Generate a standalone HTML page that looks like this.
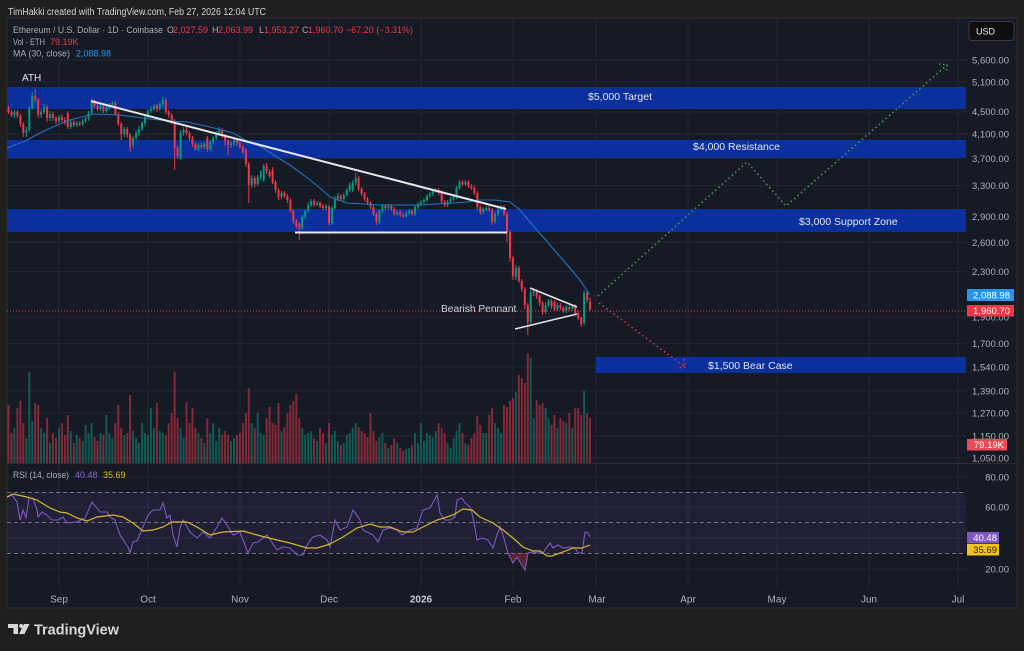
<!DOCTYPE html>
<html><head><meta charset="utf-8">
<style>
html,body{margin:0;padding:0;background:#1f1f1f;width:1024px;height:651px;overflow:hidden}
svg{display:block;font-family:"Liberation Sans",sans-serif}
</style></head><body>
<svg width="1024" height="651" viewBox="0 0 1024 651" xmlns="http://www.w3.org/2000/svg">
<rect width="1024" height="651" fill="#1f1f1f"/>
<rect x="7" y="18" width="1010" height="590" fill="#161a25" stroke="#2d2d2d" stroke-width="1"/>

<!-- grid -->
<g stroke="#212531" stroke-width="1">
  <line x1="7" x2="966" y1="60" y2="60"/><line x1="7" x2="966" y1="82" y2="82"/>
  <line x1="7" x2="966" y1="112" y2="112"/><line x1="7" x2="966" y1="134" y2="134"/>
  <line x1="7" x2="966" y1="158.5" y2="158.5"/><line x1="7" x2="966" y1="185.5" y2="185.5"/>
  <line x1="7" x2="966" y1="216.5" y2="216.5"/><line x1="7" x2="966" y1="242.5" y2="242.5"/>
  <line x1="7" x2="966" y1="271.5" y2="271.5"/><line x1="7" x2="966" y1="317" y2="317"/>
  <line x1="7" x2="966" y1="343.5" y2="343.5"/><line x1="7" x2="966" y1="367" y2="367"/>
  <line x1="7" x2="966" y1="391" y2="391"/><line x1="7" x2="966" y1="413" y2="413"/>
  <line x1="7" x2="966" y1="436" y2="436"/><line x1="7" x2="966" y1="458" y2="458"/>
  <line x1="7" x2="966" y1="477" y2="477"/><line x1="7" x2="966" y1="507" y2="507"/>
  <line x1="7" x2="966" y1="538" y2="538"/><line x1="7" x2="966" y1="569" y2="569"/>
  <line x1="59" x2="59" y1="18" y2="588"/><line x1="148" x2="148" y1="18" y2="588"/>
  <line x1="240" x2="240" y1="18" y2="588"/><line x1="329" x2="329" y1="18" y2="588"/>
  <line x1="421" x2="421" y1="18" y2="588"/><line x1="513" x2="513" y1="18" y2="588"/>
  <line x1="596" x2="596" y1="18" y2="588"/><line x1="688" x2="688" y1="18" y2="588"/>
  <line x1="777" x2="777" y1="18" y2="588"/><line x1="869" x2="869" y1="18" y2="588"/>
  <line x1="958" x2="958" y1="18" y2="588"/>
</g>

<!-- bands -->
<g fill="#0b2f9c">
  <rect x="7" y="87" width="959" height="22"/>
  <rect x="7" y="140" width="959" height="18"/>
  <rect x="7" y="209" width="959" height="23"/>
  <rect x="596" y="357" width="370" height="16"/>
</g>

<!-- volume -->
<path fill="#089981" fill-opacity="0.5" d="M13.4 428h2V463h-2zM25.3 438h2V463h-2zM28.3 372h2V463h-2zM31.2 421h2V463h-2zM40.1 428h2V463h-2zM43.1 433h2V463h-2zM49 443h2V463h-2zM58 428h2V463h-2zM69.8 431h2V463h-2zM75.7 435h2V463h-2zM81.7 441h2V463h-2zM84.6 425h2V463h-2zM87.6 433h2V463h-2zM90.6 423h2V463h-2zM99.5 433h2V463h-2zM105.4 415h2V463h-2zM108.4 433h2V463h-2zM111.3 438h2V463h-2zM123.2 435h2V463h-2zM132.1 431h2V463h-2zM135.1 438h2V463h-2zM138 443h2V463h-2zM141 423h2V463h-2zM144 433h2V463h-2zM146.9 435h2V463h-2zM149.9 408h2V463h-2zM152.9 428h2V463h-2zM158.8 431h2V463h-2zM161.8 433h2V463h-2zM179.6 428h2V463h-2zM182.6 438h2V463h-2zM197.4 433h2V463h-2zM203.3 443h2V463h-2zM209.3 433h2V463h-2zM212.2 423h2V463h-2zM215.2 441h2V463h-2zM218.2 428h2V463h-2zM230 441h2V463h-2zM233 438h2V463h-2zM250.8 423h2V463h-2zM256.7 413h2V463h-2zM259.7 433h2V463h-2zM262.7 435h2V463h-2zM280.5 431h2V463h-2zM301.2 428h2V463h-2zM304.2 435h2V463h-2zM307.2 433h2V463h-2zM310.1 431h2V463h-2zM316.1 441h2V463h-2zM325 443h2V463h-2zM330.9 435h2V463h-2zM333.9 431h2V463h-2zM336.9 441h2V463h-2zM342.8 443h2V463h-2zM345.8 435h2V463h-2zM348.7 433h2V463h-2zM351.7 428h2V463h-2zM354.7 423h2V463h-2zM378.4 437h2V463h-2zM381.4 433h2V463h-2zM387.3 448h2V463h-2zM396.2 443h2V463h-2zM405.1 449h2V463h-2zM408.1 448h2V463h-2zM414 433h2V463h-2zM417 443h2V463h-2zM419.9 423h2V463h-2zM422.9 441h2V463h-2zM425.9 433h2V463h-2zM428.8 435h2V463h-2zM431.8 437h2V463h-2zM434.8 431h2V463h-2zM446.6 443h2V463h-2zM449.6 448h2V463h-2zM452.6 438h2V463h-2zM455.5 431h2V463h-2zM458.5 423h2V463h-2zM464.4 443h2V463h-2zM482.2 433h2V463h-2zM485.2 433h2V463h-2zM494.1 423h2V463h-2zM497.1 428h2V463h-2zM500.1 433h2V463h-2zM514.9 392h2V463h-2zM529.7 358h2V463h-2zM532.7 418h2V463h-2zM544.6 408h2V463h-2zM547.5 418h2V463h-2zM556.4 428h2V463h-2zM565.3 423h2V463h-2zM571.3 428h2V463h-2zM583.1 391h2V463h-2z"/>
<path fill="#f23645" fill-opacity="0.5" d="M7.5 405h2V463h-2zM10.5 433h2V463h-2zM16.4 408h2V463h-2zM19.4 401h2V463h-2zM22.3 423h2V463h-2zM34.2 403h2V463h-2zM37.2 405h2V463h-2zM46.1 418h2V463h-2zM52 433h2V463h-2zM55 438h2V463h-2zM60.9 423h2V463h-2zM63.9 435h2V463h-2zM66.8 415h2V463h-2zM72.8 443h2V463h-2zM78.7 438h2V463h-2zM93.5 437h2V463h-2zM96.5 441h2V463h-2zM102.4 435h2V463h-2zM114.3 423h2V463h-2zM117.3 405h2V463h-2zM120.2 428h2V463h-2zM126.2 433h2V463h-2zM129.1 395h2V463h-2zM155.9 403h2V463h-2zM164.8 435h2V463h-2zM167.7 423h2V463h-2zM170.7 413h2V463h-2zM173.7 372h2V463h-2zM176.6 418h2V463h-2zM185.5 402h2V463h-2zM188.5 423h2V463h-2zM191.5 408h2V463h-2zM194.4 428h2V463h-2zM200.4 438h2V463h-2zM206.3 418h2V463h-2zM221.1 435h2V463h-2zM224.1 431h2V463h-2zM227.1 435h2V463h-2zM236 435h2V463h-2zM238.9 433h2V463h-2zM241.9 423h2V463h-2zM244.9 413h2V463h-2zM247.8 388h2V463h-2zM253.8 428h2V463h-2zM265.6 418h2V463h-2zM268.6 407h2V463h-2zM271.6 423h2V463h-2zM274.5 425h2V463h-2zM277.5 403h2V463h-2zM283.4 427h2V463h-2zM286.4 413h2V463h-2zM289.4 405h2V463h-2zM292.3 401h2V463h-2zM295.3 394h2V463h-2zM298.3 418h2V463h-2zM313.1 438h2V463h-2zM319 428h2V463h-2zM322 433h2V463h-2zM328 423h2V463h-2zM339.8 445h2V463h-2zM357.6 427h2V463h-2zM360.6 431h2V463h-2zM363.6 433h2V463h-2zM366.5 437h2V463h-2zM369.5 413h2V463h-2zM372.5 431h2V463h-2zM375.4 441h2V463h-2zM384.3 443h2V463h-2zM390.3 445h2V463h-2zM393.2 438h2V463h-2zM399.2 448h2V463h-2zM402.1 451h2V463h-2zM411 445h2V463h-2zM437.7 423h2V463h-2zM440.7 428h2V463h-2zM443.7 433h2V463h-2zM461.5 433h2V463h-2zM467.4 445h2V463h-2zM470.4 438h2V463h-2zM473.3 433h2V463h-2zM476.3 416h2V463h-2zM479.3 425h2V463h-2zM488.2 415h2V463h-2zM491.1 408h2V463h-2zM503 405h2V463h-2zM506 407h2V463h-2zM509 401h2V463h-2zM511.9 398h2V463h-2zM517.9 375h2V463h-2zM520.8 378h2V463h-2zM523.8 383h2V463h-2zM526.8 353h2V463h-2zM535.7 400h2V463h-2zM538.6 405h2V463h-2zM541.6 403h2V463h-2zM550.5 425h2V463h-2zM553.5 415h2V463h-2zM559.4 418h2V463h-2zM562.4 421h2V463h-2zM568.3 413h2V463h-2zM574.2 408h2V463h-2zM577.2 408h2V463h-2zM580.2 415h2V463h-2zM586.1 413h2V463h-2zM589 418h2V463h-2z"/>

<!-- candles: wicks -->
<path fill="none" stroke="#089981" stroke-width="1" d="M14.4 110V118M26.3 127V137M29.3 106V132M32.2 92V110M41.1 109V118M44.1 104V114M50 111V121M59 115V123M70.8 120V129M76.7 121V127M82.7 119V126M85.6 117V123M88.6 111V121M91.6 99V115M100.5 103V111M106.4 105V113M109.4 103V110M112.3 101V107M124.2 127V137M133.1 136V148M136.1 130V140M139 126V136M142 121V131M145 115V126M147.9 109V119M150.9 106V113M153.9 104V111M159.8 102V111M162.8 97V106M180.6 130V160M183.6 127V136M198.4 143V151M204.3 142V149M210.3 140V151M213.2 136V144M216.2 131V140M219.2 127V136M231 141V148M234 138V146M251.8 175V188M257.7 175V186M260.7 170V180M263.7 164V182M281.5 191V199M302.2 215V230M305.2 209V219M308.2 202V213M311.1 199V207M317.1 201V206M326 204V210M331.9 206V225M334.9 196V210M337.9 193V201M343.8 193V201M346.8 188V197M349.7 182V192M352.7 180V192M355.7 173V185M379.4 209V224M382.4 204V213M388.3 204V210M397.2 210V216M406.1 211V218M409.1 209V215M415 205V216M418 202V209M420.9 200V206M423.9 198V204M426.9 194V202M429.8 192V198M432.8 189V196M435.8 188V193M447.6 200V207M450.6 197V204M453.6 195V201M456.5 186V199M459.5 180V190M465.4 180V186M483.2 207V214M486.2 206V211M495.1 212V224M498.1 207V216M501.1 205V211M515.9 265V280M530.7 290V324M533.7 288V296M545.6 302V314M548.5 299V307M557.4 303V311M566.3 305V313M572.3 304V311M584.1 290V325"/>
<path fill="none" stroke="#f23645" stroke-width="1" d="M8.5 106V114M11.5 110V117M17.4 110V118M20.4 114V127M23.3 122V137M35.2 89V103M38.2 98V118M47.1 105V122M53 112V121M56 116V124M61.9 114V122M64.9 117V125M67.8 111V129M73.8 120V127M79.7 121V126M94.5 99V108M97.5 104V111M103.4 104V113M115.3 101V116M118.3 112V126M121.2 122V140M127.2 127V138M130.1 133V152M156.9 104V112M165.8 98V114M168.7 110V118M171.7 113V124M174.7 119V170M177.6 146V159M186.5 127V135M189.5 131V141M192.5 136V147M195.4 142V151M201.4 143V149M207.3 136V152M222.1 128V138M225.1 134V146M228.1 139V155M237 138V146M239.9 141V149M242.9 145V154M245.9 148V167M248.8 162V203M254.8 176V187M266.6 163V174M269.6 169V178M272.6 167V184M275.5 180V193M278.5 188V200M284.4 191V198M287.4 194V203M290.4 198V213M293.3 209V224M296.3 219V229M299.3 222V240M314.1 199V207M320 201V208M323 204V210M329 205V226M340.8 194V201M358.6 176V191M361.6 187V196M364.6 192V201M367.5 197V205M370.5 201V209M373.5 205V216M376.4 212V225M385.3 204V210M391.3 204V211M394.2 207V216M400.2 210V217M403.1 213V218M412 209V216M438.7 188V195M441.7 191V204M444.7 200V207M462.5 180V186M468.4 180V188M471.4 184V190M474.3 186V195M477.3 191V210M480.3 205V215M489.2 206V212M492.1 208V225M504 205V216M507 212V242M510 230V262M512.9 256V280M518.9 266V283M521.8 279V292M524.8 287V309M527.8 303V335M536.7 289V299M539.6 294V306M542.6 301V315M551.5 299V309M554.5 300V311M560.4 303V310M563.4 306V313M569.3 305V311M575.2 304V315M578.2 311V320M581.2 316V327M587.1 291V303M590 297V310.5"/>
<!-- candles: bodies -->
<path fill="#089981" d="M13.4 112h2v3h-2zM25.3 130h2v3h-2zM28.3 108h2v22h-2zM31.2 96h2v12h-2zM40.1 112h2v3h-2zM43.1 107h2v5h-2zM49 114h2v4h-2zM58 117h2v4h-2zM69.8 122h2v5h-2zM75.7 123h2v2h-2zM81.7 121h2v3h-2zM84.6 119h2v2h-2zM87.6 113h2v6h-2zM90.6 101h2v12h-2zM99.5 106h2v3h-2zM105.4 108h2v3h-2zM108.4 105h2v3h-2zM111.3 103h2v2h-2zM123.2 129h2v5h-2zM132.1 138h2v7h-2zM135.1 133h2v5h-2zM138 129h2v4h-2zM141 123h2v6h-2zM144 117h2v6h-2zM146.9 111h2v6h-2zM149.9 109h2v2h-2zM152.9 106h2v3h-2zM158.8 104h2v5h-2zM161.8 100h2v4h-2zM179.6 133h2v24h-2zM182.6 130h2v3h-2zM197.4 145h2v4h-2zM203.3 144h2v3h-2zM209.3 142h2v7h-2zM212.2 138h2v4h-2zM215.2 134h2v4h-2zM218.2 130h2v4h-2zM230 143h2v2h-2zM233 140h2v3h-2zM250.8 178h2v7h-2zM256.7 177h2v7h-2zM259.7 172h2v5h-2zM262.7 166h2v14h-2zM280.5 193h2v4h-2zM301.2 217h2v11h-2zM304.2 211h2v6h-2zM307.2 205h2v6h-2zM310.1 201h2v4h-2zM316.1 203h2v2h-2zM325 206h2v2h-2zM330.9 208h2v15h-2zM333.9 199h2v9h-2zM336.9 196h2v3h-2zM342.8 195h2v4h-2zM345.8 190h2v5h-2zM348.7 185h2v5h-2zM351.7 183h2v7h-2zM354.7 178h2v5h-2zM378.4 211h2v11h-2zM381.4 206h2v5h-2zM387.3 206h2v2h-2zM396.2 212h2v2h-2zM405.1 213h2v3h-2zM408.1 211h2v2h-2zM414 207h2v7h-2zM417 204h2v3h-2zM419.9 202h2v2h-2zM422.9 200h2v2h-2zM425.9 196h2v4h-2zM428.8 194h2v2h-2zM431.8 191h2v3h-2zM434.8 190h2v1.5h-2zM446.6 202h2v3h-2zM449.6 199h2v3h-2zM452.6 197h2v2h-2zM455.5 188h2v9h-2zM458.5 182h2v6h-2zM464.4 182h2v2h-2zM482.2 209h2v3h-2zM485.2 208h2v1.5h-2zM494.1 214h2v8h-2zM497.1 209h2v5h-2zM500.1 207h2v2h-2zM514.9 268h2v9h-2zM529.7 293h2v29h-2zM532.7 291h2v2h-2zM544.6 305h2v7h-2zM547.5 301h2v4h-2zM556.4 305h2v4h-2zM565.3 307h2v4h-2zM571.3 306h2v3h-2zM583.1 293h2v30h-2z"/>
<path fill="#f23645" d="M7.5 108h2v4h-2zM10.5 112h2v3h-2zM16.4 112h2v4h-2zM19.4 116h2v8h-2zM22.3 124h2v9h-2zM34.2 96h2v4h-2zM37.2 100h2v15h-2zM46.1 107h2v11h-2zM52 114h2v4h-2zM55 118h2v3h-2zM60.9 117h2v3h-2zM63.9 120h2v2h-2zM66.8 113h2v14h-2zM72.8 122h2v3h-2zM78.7 123h2v1.5h-2zM93.5 101h2v5h-2zM96.5 106h2v3h-2zM102.4 106h2v5h-2zM114.3 103h2v11h-2zM117.3 114h2v10h-2zM120.2 124h2v10h-2zM126.2 129h2v6h-2zM129.1 135h2v12h-2zM155.9 106h2v3h-2zM164.8 100h2v12h-2zM167.7 112h2v3h-2zM170.7 115h2v6h-2zM173.7 121h2v27h-2zM176.6 148h2v8h-2zM185.5 130h2v3h-2zM188.5 133h2v5h-2zM191.5 138h2v6h-2zM194.4 144h2v5h-2zM200.4 145h2v2h-2zM206.3 138h2v11h-2zM221.1 130h2v6h-2zM224.1 136h2v5h-2zM227.1 141h2v4h-2zM236 140h2v3h-2zM238.9 143h2v4h-2zM241.9 147h2v5h-2zM244.9 150h2v14h-2zM247.8 164h2v21h-2zM253.8 178h2v6h-2zM265.6 166h2v6h-2zM268.6 172h2v4h-2zM271.6 170h2v12h-2zM274.5 182h2v8h-2zM277.5 190h2v7h-2zM283.4 193h2v3h-2zM286.4 196h2v4h-2zM289.4 200h2v11h-2zM292.3 211h2v10h-2zM295.3 221h2v5h-2zM298.3 224h2v4h-2zM313.1 201h2v4h-2zM319 203h2v3h-2zM322 206h2v2h-2zM328 207h2v16h-2zM339.8 196h2v3h-2zM357.6 178h2v11h-2zM360.6 189h2v5h-2zM363.6 194h2v5h-2zM366.5 199h2v4h-2zM369.5 203h2v4h-2zM372.5 207h2v7h-2zM375.4 214h2v8h-2zM384.3 206h2v2h-2zM390.3 206h2v3h-2zM393.2 209h2v5h-2zM399.2 212h2v3h-2zM402.1 215h2v1.5h-2zM411 211h2v3h-2zM437.7 190h2v3h-2zM440.7 193h2v9h-2zM443.7 202h2v3h-2zM461.5 182h2v2h-2zM467.4 182h2v4h-2zM470.4 186h2v2h-2zM473.3 188h2v5h-2zM476.3 193h2v14h-2zM479.3 207h2v5h-2zM488.2 208h2v2h-2zM491.1 210h2v12h-2zM503 207h2v7h-2zM506 214h2v18h-2zM509 232h2v26h-2zM511.9 258h2v18h-2zM517.9 268h2v13h-2zM520.8 281h2v8h-2zM523.8 289h2v16h-2zM526.8 305h2v17h-2zM535.7 291h2v5h-2zM538.6 296h2v7h-2zM541.6 303h2v9h-2zM550.5 301h2v5h-2zM553.5 302h2v7h-2zM559.4 305h2v3h-2zM562.4 308h2v3h-2zM568.3 307h2v2h-2zM574.2 306h2v7h-2zM577.2 313h2v5h-2zM580.2 318h2v6h-2zM586.1 293h2v7h-2zM589 302h2v7.5h-2z"/>

<!-- MA 30 -->
<polyline fill="none" stroke="#2273c4" stroke-width="1.1" points="7,148 25,141 40,133 55,126 70,120 93,114 120,115 150,119 170,121 187,122 210,127 233,133 247,141 263,148 280,159 290,165 305,176 320,188 330,197 347,203 380,205 420,205 453,203 467,202 480,200 495,200 510,202 520,210 530,222 543,237 563,260 580,280 590,295"/>

<!-- trend lines -->
<line x1="91" y1="101" x2="506" y2="209" stroke="#e6e6e6" stroke-width="2"/>
<line x1="295" y1="232.5" x2="507" y2="232.5" stroke="#e6e6e6" stroke-width="2"/>
<line x1="530" y1="288" x2="577" y2="307" stroke="#e6e6e6" stroke-width="1.5"/>
<line x1="515" y1="329" x2="577" y2="314" stroke="#e6e6e6" stroke-width="1.5"/>

<!-- last price line -->
<line x1="7" x2="966" y1="311" y2="311" stroke="#f23645" stroke-width="1" stroke-dasharray="1,2"/>

<!-- projections -->
<polyline fill="none" stroke="#43a047" stroke-width="1.5" stroke-dasharray="1.5,3" points="598,296 747,162 786,206 947,65"/>
<polyline fill="none" stroke="#43a047" stroke-width="1.5" stroke-dasharray="1.5,2.5" points="939,64 947,65 946,73"/>
<polyline fill="none" stroke="#e53945" stroke-width="1.5" stroke-dasharray="1.5,3" points="599,303 685,367"/>
<polyline fill="none" stroke="#e53945" stroke-width="1.5" stroke-dasharray="1.5,2.5" points="684,359 685,367 677,368"/>

<!-- texts in main pane -->
<g font-size="10.5" fill="#e3e6ee">
  <text x="22" y="81" font-size="10">ATH</text>
  <text x="588" y="100">$5,000 Target</text>
  <text x="693" y="150">$4,000 Resistance</text>
  <text x="799" y="225">$3,000 Support Zone</text>
  <text x="708" y="369">$1,500 Bear Case</text>
  <text x="441" y="312" font-size="10.2" fill="#d1d4dc">Bearish Pennant</text>
</g>

<!-- pane separator -->
<line x1="7" x2="1017" y1="463.5" y2="463.5" stroke="#2a2e39" stroke-width="1"/>

<!-- RSI pane -->
<rect x="7" y="492" width="959" height="61" fill="#7e57c2" fill-opacity="0.1"/>
<g stroke="#6f7280" stroke-width="1" stroke-dasharray="4,3">
  <line x1="7" x2="966" y1="492.5" y2="492.5"/>
  <line x1="7" x2="966" y1="522.5" y2="522.5"/>
  <line x1="7" x2="966" y1="553.5" y2="553.5"/>
</g>
<polygon fill="#f23645" fill-opacity="0.3" points="508,553 513,563 517,557 520,562 525,570 528,553"/>
<polyline fill="none" stroke="#7e57c2" stroke-width="1.1" points="7,497 12,495 17,502 20,520 23,510 26,518 29,498 33,498 37,510 38,517 42,512 47,515 52,520 58,520 63,517 67,523 77,522 85,518 92,502 100,512 107,512 110,517 115,520 120,535 128,547 130,553 133,542 137,541 143,527 148,515 153,510 160,510 163,503 167,518 170,515 173,535 177,547 180,528 183,520 190,532 197,538 203,532 210,538 217,527 222,518 227,525 233,535 240,532 248,553 253,543 258,542 267,535 277,550 283,547 290,548 297,555 303,555 307,545 313,537 320,535 327,540 330,547 335,520 340,530 347,527 353,510 360,520 363,530 373,535 378,542 383,530 390,528 397,530 402,535 410,530 417,528 423,510 430,508 437,495 440,513 445,520 450,520 455,517 457,500 462,498 465,503 470,507 473,517 477,540 482,538 488,540 493,548 497,535 500,527 503,535 508,553 513,563 517,557 520,562 525,570 528,553 533,552 537,553 543,553 547,547 550,543 553,548 558,545 563,548 570,547 575,548 578,553 582,553 585,532 588,533 590,537"/>
<polyline fill="none" stroke="#d9b72c" stroke-width="1.2" points="7,497 13,494 27,497 37,500 50,508 60,512 67,513 77,518 87,521 97,517 113,515 123,517 133,523 143,531 153,530 163,527 172,522 187,522 197,527 210,535 223,532 243,531 257,535 277,540 290,543 307,548 317,548 327,545 330,544 343,537 357,528 370,524 380,527 390,527 403,532 413,532 423,527 437,520 447,517 453,515 463,509 472,510 480,517 493,523 503,530 513,538 523,547 533,551 540,551 547,556 552,556 563,552 573,548 582,548 590,545"/>

<!-- legend -->
<text x="8" y="15" font-size="10" fill="#d4d4d4" textLength="258" lengthAdjust="spacingAndGlyphs">TimHakki created with TradingView.com, Feb 27, 2026 12:04 UTC</text>
<g font-size="9">
  <text x="13" y="33" fill="#a9acb5" textLength="150" lengthAdjust="spacingAndGlyphs">Ethereum / U.S. Dollar · 1D · Coinbase</text>
  <text x="167" y="33" fill="#a9acb5">O</text><text x="173" y="33" fill="#f23645">2,027.59</text>
  <text x="212" y="33" fill="#a9acb5">H</text><text x="218" y="33" fill="#f23645">2,063.99</text>
  <text x="259" y="33" fill="#a9acb5">L</text><text x="264" y="33" fill="#f23645">1,953.27</text>
  <text x="302" y="33" fill="#a9acb5">C</text><text x="308" y="33" fill="#f23645">1,960.70</text>
  <text x="346" y="33" fill="#f23645">−67.20 (−3.31%)</text>
  <text x="13" y="45" fill="#a9acb5" textLength="32" lengthAdjust="spacingAndGlyphs">Vol · ETH</text><text x="50" y="45" fill="#f23645">79.19K</text>
  <text x="13" y="56.5" fill="#a9acb5" textLength="57" lengthAdjust="spacingAndGlyphs">MA (30, close)</text><text x="76" y="56.5" fill="#2196f3">2,088.98</text>
  <text x="13" y="478" fill="#a9acb5" textLength="56" lengthAdjust="spacingAndGlyphs">RSI (14, close)</text><text x="75" y="478" fill="#8a63d2">40.48</text><text x="103" y="478" fill="#e2bd22">35.69</text>
</g>

<!-- price axis -->
<rect x="969" y="21.5" width="45" height="19" rx="3" fill="#0f0f12" stroke="#3a3b40"/>
<text x="976" y="34.5" font-size="9" fill="#e8e8e8">USD</text>
<g font-size="9.5" fill="#aeb1ba" text-anchor="end">
  <text x="1009" y="63.5">5,600.00</text><text x="1009" y="85.5">5,100.00</text>
  <text x="1009" y="115">4,500.00</text><text x="1009" y="137.5">4,100.00</text>
  <text x="1009" y="162">3,700.00</text><text x="1009" y="189">3,300.00</text>
  <text x="1009" y="220">2,900.00</text><text x="1009" y="246">2,600.00</text>
  <text x="1009" y="275">2,300.00</text><text x="1009" y="320.5">1,900.00</text>
  <text x="1009" y="347">1,700.00</text><text x="1009" y="370.5">1,540.00</text>
  <text x="1009" y="394.5">1,390.00</text><text x="1009" y="416.5">1,270.00</text>
  <text x="1009" y="439.5">1,150.00</text><text x="1009" y="461.5">1,050.00</text>
  <text x="1009" y="480.5">80.00</text><text x="1009" y="510.5">60.00</text>
  <text x="1009" y="572.5">20.00</text>
</g>
<rect x="967" y="289" width="47" height="12" fill="#2196f3"/>
<rect x="967" y="305" width="47" height="11.5" fill="#f23645"/>
<rect x="967" y="439" width="40" height="11.5" fill="#e84b56"/>
<rect x="967" y="532" width="32" height="11.5" fill="#7e57c2"/>
<rect x="967" y="544" width="32" height="11.5" fill="#f2c514"/>
<g font-size="9.5" text-anchor="end">
  <text x="1010" y="298.5" fill="#fff">2,088.98</text>
  <text x="1010" y="314" fill="#fff">1,960.70</text>
  <text x="1004" y="448" fill="#fff">79.19K</text>
  <text x="997" y="541" fill="#fff">40.48</text>
  <text x="997" y="553" fill="#222">35.69</text>
</g>

<!-- time axis -->
<g font-size="10" fill="#aeb1ba" text-anchor="middle">
  <text x="59" y="602.5">Sep</text><text x="148" y="602.5">Oct</text>
  <text x="240" y="602.5">Nov</text><text x="329" y="602.5">Dec</text>
  <text x="421" y="602.5" font-weight="bold" fill="#c7cad2">2026</text>
  <text x="513" y="602.5">Feb</text><text x="597" y="602.5">Mar</text>
  <text x="688" y="602.5">Apr</text><text x="777" y="602.5">May</text>
  <text x="869" y="602.5">Jun</text><text x="958" y="602.5">Jul</text>
</g>

<!-- logo -->
<g fill="#d8d8d8">
  <polygon points="8,624 18,624 18,634 13.5,634 13.5,628 8,628"/>
  <circle cx="21.2" cy="626" r="2.1"/>
  <polygon points="24,624 29.5,624 24.5,634 19,634"/>
</g>
<text x="34" y="634.5" font-size="14.5" font-weight="bold" fill="#d8d8d8" textLength="85" lengthAdjust="spacingAndGlyphs">TradingView</text>
</svg>
</body></html>
